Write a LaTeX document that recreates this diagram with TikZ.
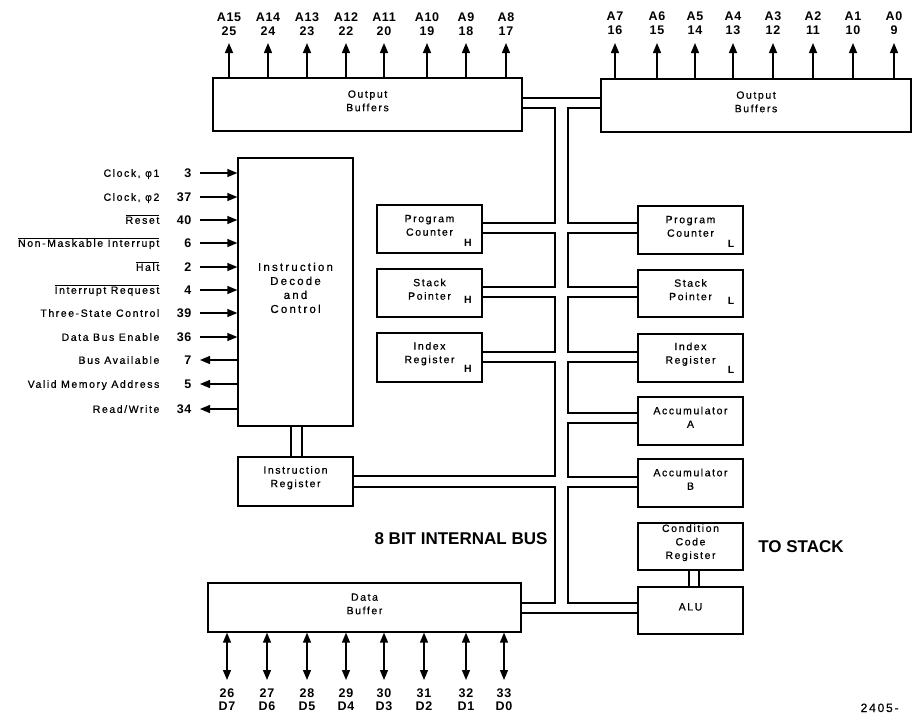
\documentclass[tikz,border=0pt]{standalone}
\usepackage{fontspec}
\setmainfont{Liberation Sans}
\newfontfamily\lsp{Liberation Sans}[LetterSpace=15,FakeBold=0.7]
\newfontfamily\lspx{Liberation Sans}[LetterSpace=19,FakeBold=0.7]
\newfontfamily\lspb{Liberation Sans}[LetterSpace=5]
\usetikzlibrary{arrows.meta,fit}
\newcommand\mkbox[6]{\node[box, fit={(#2,#3) (#4,#5)}] (#1) {#6};}
\begin{document}
\begin{tikzpicture}[x=1pt,y=-1pt,line width=1.3pt,
 box/.style={draw, inner sep=0pt, align=center, font=\lsp\fontsize{10.5}{13.5}\selectfont},
 sig/.style={font=\lsp\fontsize{10.5}{12}\selectfont, inner sep=0pt},
 pinl/.style={font=\lspb\bfseries\fontsize{12.5}{13}\selectfont, inner sep=0pt},
 hl/.style={font=\lspb\bfseries\fontsize{10.5}{11}\selectfont, inner sep=0pt},
 arr/.style={-{Triangle[length=10pt,width=8pt]}},
 darr/.style={{Triangle[length=10pt,width=8pt]}-{Triangle[length=10pt,width=8pt]}},
 big/.style={font=\rmfamily\bfseries\fontsize{17}{20}\selectfont, inner sep=0pt}]
\useasboundingbox (0,0) rectangle (912,715);

% boxes
\mkbox{obL}{213}{78}{522}{131}{\rule{0pt}{8pt}Output\\Buffers}
\mkbox{obR}{601}{79}{911}{132}{\rule{0pt}{8pt}Output\\Buffers}
\node[box, font=\lspx\fontsize{11.5}{14}\selectfont, fit={(238,158) (353,426)}] (idc) {Instruction\\Decode\\and\\Control};
\mkbox{ir}{238}{457}{353}{506}{Instruction\\Register}
\mkbox{db}{208}{583}{521}{632}{Data\\Buffer}
\mkbox{pch}{377}{205}{482}{253}{Program\\Counter}
\mkbox{sph}{377}{269}{482}{317}{Stack\\Pointer}
\mkbox{ixh}{377}{333}{482}{382}{Index\\Register}
\mkbox{pcl}{638}{206}{743}{254}{Program\\Counter}
\mkbox{spl}{638}{270}{743}{317}{Stack\\Pointer}
\mkbox{ixl}{638}{334}{743}{382}{Index\\Register}
\mkbox{acca}{638}{397}{743}{445}{Accumulator\\A}
\mkbox{accb}{638}{459}{743}{507}{Accumulator\\B}
\mkbox{ccr}{638}{523}{743}{570}{Condition\\Code\\Register}
\mkbox{alu}{638}{587}{743}{634}{ALU}

% H / L markers
\node[hl] (hpc) at (468,243) {H};
\node[hl] (hsp) at (468,300) {H};
\node[hl] (hix) at (468,369) {H};
\node[hl] (lpc) at (731,244) {L};
\node[hl] (lsp) at (731,301) {L};
\node[hl] (lix) at (731,370) {L};

% bus walls
\coordinate (bl) at (555,0);
\coordinate (br) at (568,0);
\draw (obL.east |- 0,98) -- (obR.west |- 0,98);
\draw (obL.east |- 0,108) -| (bl |- 0,223) -- (pch.east |- 0,223);
\draw (pch.east |- 0,233) -| (bl |- 0,287) -- (sph.east |- 0,287);
\draw (sph.east |- 0,297) -| (bl |- 0,352) -- (ixh.east |- 0,352);
\draw (ixh.east |- 0,362) -| (bl |- 0,476) -- (ir.east |- 0,476);
\draw (ir.east |- 0,487) -| (bl |- 0,603) -- (db.east |- 0,603);
\draw (db.east |- 0,613) -- (alu.west |- 0,613);
\draw (obR.west |- 0,108) -| (br |- 0,223) -- (pcl.west |- 0,223);
\draw (pcl.west |- 0,233) -| (br |- 0,287) -- (spl.west |- 0,287);
\draw (spl.west |- 0,297) -| (br |- 0,352) -- (ixl.west |- 0,352);
\draw (ixl.west |- 0,362) -| (br |- 0,413) -- (acca.west |- 0,413);
\draw (acca.west |- 0,423) -| (br |- 0,477) -- (accb.west |- 0,477);
\draw (accb.west |- 0,487) -| (br |- 0,603) -- (alu.west |- 0,603);

% double links
\draw (idc.south -| 291,0) -- (ir.north -| 291,0);
\draw (idc.south -| 302,0) -- (ir.north -| 302,0);
\draw (ccr.south -| 689,0) -- (alu.north -| 689,0);
\draw (ccr.south -| 699,0) -- (alu.north -| 699,0);

% address pins
\foreach \x/\a/\n [count=\k] in {229/A15/25,268/A14/24,307/A13/23,346/A12/22,384/A11/20,427/A10/19,466/A9/18,506/A8/17}{
  \coordinate (ah\k) at (\x,43);
  \draw[arr] (obL.north -| ah\k) -- (ah\k);
  \node[pinl] (al\k) at (\x,17) {\a};
  \node[pinl] (an\k) at (\x,31) {\n};
}
\foreach \x/\a/\n [count=\k] in {615/A7/16,657/A6/15,695/A5/14,733/A4/13,773/A3/12,813/A2/11,853/A1/10,894/A0/9}{
  \coordinate (bh\k) at (\x,43);
  \draw[arr] (obR.north -| bh\k) -- (bh\k);
  \node[pinl] (bl\k) at (\x,16) {\a};
  \node[pinl] (bn\k) at (\x,30) {\n};
}

% data pins
\foreach \x/\n/\d [count=\k] in {227/26/D7,267/27/D6,307/28/D5,346/29/D4,384/30/D3,424/31/D2,466/32/D1,504/33/D0}{
  \coordinate (dh\k) at (\x,680);
  \draw[darr] (db.south -| dh\k) -- (dh\k);
  \node[pinl] (dn\k) at (\x,693) {\n};
  \node[pinl] (dl\k) at (\x,706) {\d};
}

% control signals (inputs)
\foreach \y/\nm/\num [count=\k] in {173/{Clock, φ1}/3, 197/{Clock, φ2}/37, 220/{$\overline{\mbox{Reset}}$}/40, 243/{$\overline{\mbox{Non-Maskable Interrupt}}$}/6, 267/{$\overline{\mbox{Halt}}$}/2, 290/{$\overline{\mbox{Interrupt Request}}$}/4, 313/{Three-State Control}/39, 337/{Data Bus Enable}/36}{
  \node[sig, anchor=base east] (si\k) at (160,\y+3.8) {\nm};
  \node[pinl, anchor=base east] (sin\k) at (192,\y+4.5) {\num};
  \coordinate (sic\k) at (200,\y);
  \draw[arr] (sic\k) -- (idc.west |- sic\k);
}
% control signals (outputs)
\foreach \y/\nm/\num [count=\k] in {360/{Bus Available}/7, 384/{Valid Memory Address}/5, 409/{Read/Write}/34}{
  \node[sig, anchor=base east] (so\k) at (160,\y+3.8) {\nm};
  \node[pinl, anchor=base east] (son\k) at (192,\y+4.5) {\num};
  \coordinate (soc\k) at (200,\y);
  \draw[arr] (idc.west |- soc\k) -- (soc\k);
}

% captions
\node[big] (busl) at (461,539) {8 BIT INTERNAL BUS};
\node[big] (tost) at (801,547) {TO STACK};
\node[font=\lsp\fontsize{12}{13}\selectfont, inner sep=0pt, anchor=base west] (fig) at (860,712) {2405-};
\end{tikzpicture}
\end{document}
